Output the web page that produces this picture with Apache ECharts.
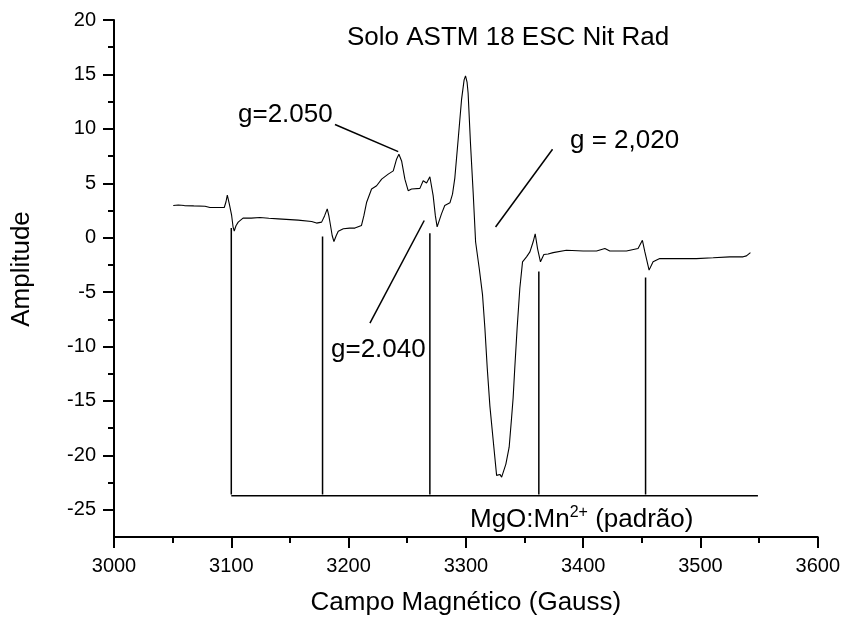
<!DOCTYPE html>
<html>
<head>
<meta charset="utf-8">
<script src="https://cdn.jsdelivr.net/npm/echarts@6/dist/echarts.min.js"></script>
<style>
  html, body { margin: 0; padding: 0; background: #fff; }
  #chart { width: 843px; height: 621px; }
</style>
</head>
<body>
<div id="chart"></div>
<script>
// EPR spectrum: field (Gauss) vs amplitude
const fieldG = [
  3050.5, 3054.8, 3060, 3068, 3077.6, 3081.8, 3094, 3095.5, 3096.6, 3098.3,
  3100.3, 3101.5, 3102.5, 3104, 3105.9, 3110, 3117, 3124.4, 3132, 3140,
  3157, 3168.5, 3172.7, 3177, 3179.5, 3181.8, 3183.2, 3184.6, 3186, 3187.5,
  3189.5, 3191.2, 3195.5, 3201, 3205.4, 3211, 3213, 3215.4, 3219.6, 3223.9,
  3228.2, 3233.8, 3238.1, 3240.9, 3242.9, 3245.2, 3248, 3250.8, 3253.7, 3260.8,
  3263.6, 3266.5, 3269.3, 3272.1, 3274, 3275.5, 3279.2, 3282, 3286.4, 3288.6,
  3290.6, 3293.4, 3296.3, 3298.5, 3299.7, 3301, 3301.9, 3303.9, 3306.2, 3308.3,
  3311.4, 3314.2, 3316.2, 3318.2, 3320.5, 3323.3, 3326.2, 3329, 3330.5, 3331.8,
  3334.1, 3336.9, 3339, 3340.3, 3341.7, 3343.7, 3346, 3348.3, 3351.7, 3354.6,
  3357.3, 3359.1, 3361.1, 3363.6, 3366.5, 3370.1, 3374.4, 3385.7, 3400, 3411.4,
  3418.5, 3422.7, 3436.9, 3446.8, 3450.5, 3452.6, 3456.2, 3459.6, 3465.3, 3479.5,
  3496.5, 3510.8, 3525, 3536.4, 3539.2, 3542.6
];
const amplitude = [
  2.95, 3.0, 2.95, 2.92, 2.89, 2.77, 2.77, 3.3, 3.92, 3.1,
  2.04, 1.0, 0.61, 1.1, 1.43, 1.8, 1.8, 1.85, 1.78, 1.73,
  1.61, 1.49, 1.34, 1.43, 2.0, 2.65, 2.0, 1.12, 0.2, -0.35,
  0.2, 0.6, 0.82, 0.88, 0.88, 1.12, 2.0, 3.26, 4.47, 4.77,
  5.38, 5.84, 6.14, 7.21, 7.66, 7.05, 5.38, 4.32, 4.47, 4.53,
  5.23, 5.02, 5.6, 3.86, 2.0, 1.0, 2.19, 2.95, 3.2, 4.0,
  5.5, 9.0, 12.68, 14.5, 14.87, 14.3, 13.29, 8.73, 4.17, -0.4,
  -2.83, -5.26, -8.3, -11.95, -15.5, -18.64, -21.84, -21.75, -22.0, -22.1,
  -20.8, -19.25, -16.5, -14.7, -11.95, -8.3, -4.65, -2.22, -1.76, -1.3,
  -0.4, 0.36, -1.0, -2.22, -1.55, -1.5, -1.37, -1.16, -1.22, -1.22,
  -1.0, -1.22, -1.22, -1.0, -0.24, -1.31, -2.98, -2.22, -1.92, -1.92,
  -1.92, -1.85, -1.76, -1.76, -1.67, -1.37
];

// MgO:Mn2+ reference lines
const stickField = [3100, 3177.8, 3269.3, 3362.2, 3453.2];
const stickTop = [0.9, 0.1, 0.4, -3.1, -3.65];
const stickBottom = -23.6;
const stickBaseline = -23.7;
const baselineEnd = 3549;

// pointer lines for the g-value labels: [field, amplitude] pairs
const pointer2050 = [[3188.4, 10.4], [3242.3, 7.91]];
const pointer2020 = [[3373.9, 8.12], [3325.3, 0.98]];
const pointer2040 = [[3264.5, 1.58], [3218.2, -7.85]];

// axes
const xMin = 3000, xMax = 3600, xStep = 100;
const yMin = -27.5, yMax = 20;
const yMajor = [-25, -20, -15, -10, -5, 0, 5, 10, 15, 20];
const yMinor = [-22.5, -17.5, -12.5, -7.5, -2.5, 2.5, 7.5, 12.5, 17.5];

const FONT = '"Liberation Sans", Arial, sans-serif';
const INK = '#000';
const TXT = 26;

const chart = echarts.init(document.getElementById('chart'), null, { renderer: 'canvas' });

const series = [];
series.push({
  type: 'line',
  data: fieldG.map((f, i) => [f, amplitude[i]]),
  showSymbol: false,
  symbol: 'none',
  lineStyle: { color: INK, width: 1.1 },
  animation: false,
  z: 3
});
stickField.forEach((f, i) => {
  series.push({
    type: 'line',
    data: [[f, stickTop[i]], [f, stickBottom]],
    symbol: 'none',
    lineStyle: { color: INK, width: 1.5 },
    animation: false
  });
});
series.push({
  type: 'line',
  data: [[stickField[0], stickBaseline], [baselineEnd, stickBaseline]],
  symbol: 'none',
  lineStyle: { color: INK, width: 1.5 },
  animation: false
});
[pointer2050, pointer2020, pointer2040].forEach(p => {
  series.push({
    type: 'line',
    data: p,
    symbol: 'none',
    lineStyle: { color: INK, width: 1.5 },
    animation: false
  });
});

function label(text, x, y) {
  return {
    type: 'text', x: x, y: y,
    style: { text: text, fill: INK, font: `${TXT}px ${FONT}`, align: 'left', verticalAlign: 'middle' }
  };
}

chart.setOption({
  backgroundColor: '#fff',
  animation: false,
  grid: { left: 114, top: 20, width: 704, height: 520, containLabel: false },
  xAxis: {
    type: 'value',
    min: xMin, max: xMax, interval: xStep,
    name: 'Campo Magnético (Gauss)',
    nameLocation: 'middle',
    nameGap: 53,
    nameTextStyle: { color: INK, fontFamily: FONT, fontSize: TXT },
    axisLine: { show: true, onZero: false, lineStyle: { color: INK, width: 2 } },
    axisTick: { show: true, inside: false, length: 11, lineStyle: { color: INK, width: 2 } },
    minorTick: { show: true, splitNumber: 2, length: 6, lineStyle: { color: INK, width: 2 } },
    axisLabel: { color: INK, fontFamily: FONT, fontSize: 20, margin: 19, formatter: v => String(v) },
    splitLine: { show: false },
    minorSplitLine: { show: false }
  },
  yAxis: [{
    type: 'value',
    min: yMin, max: yMax,
    axisLine: { show: true, onZero: false, lineStyle: { color: INK, width: 2 } },
    axisTick: { show: true, inside: false, length: 11, customValues: yMajor, lineStyle: { color: INK, width: 2 } },
    axisLabel: { color: INK, fontFamily: FONT, fontSize: 20, margin: 18, customValues: yMajor, formatter: v => String(v) },
    splitLine: { show: false }
  }, {
    type: 'value',
    min: yMin, max: yMax,
    position: 'left',
    axisLine: { show: false },
    axisTick: { show: true, inside: false, length: 6, customValues: yMinor, lineStyle: { color: INK, width: 2 } },
    axisLabel: { show: false, customValues: yMinor },
    splitLine: { show: false }
  }],
  series: series,
  graphic: [
    {
      type: 'text', x: 22, y: 269, rotation: Math.PI / 2,
      style: { text: 'Amplitude', fill: INK, font: `${TXT}px ${FONT}`, align: 'center', verticalAlign: 'middle' }
    },
    label('Solo ASTM 18 ESC Nit Rad', 347, 38),
    label('g=2.050', 238, 115),
    label('g = 2,020', 570, 141),
    label('g=2.040', 331, 350),
    {
      type: 'text', left: 470, top: 505,
      style: {
        text: '{a|MgO:Mn}{s|2+}{a| (padrão)}',
        fill: INK,
        rich: {
          a: { fontFamily: FONT, fontSize: TXT, lineHeight: 30, fill: INK },
          s: { fontFamily: FONT, fontSize: 16, lineHeight: 16, fill: INK, verticalAlign: 'top' }
        }
      }
    }
  ]
});
</script>
</body>
</html>
